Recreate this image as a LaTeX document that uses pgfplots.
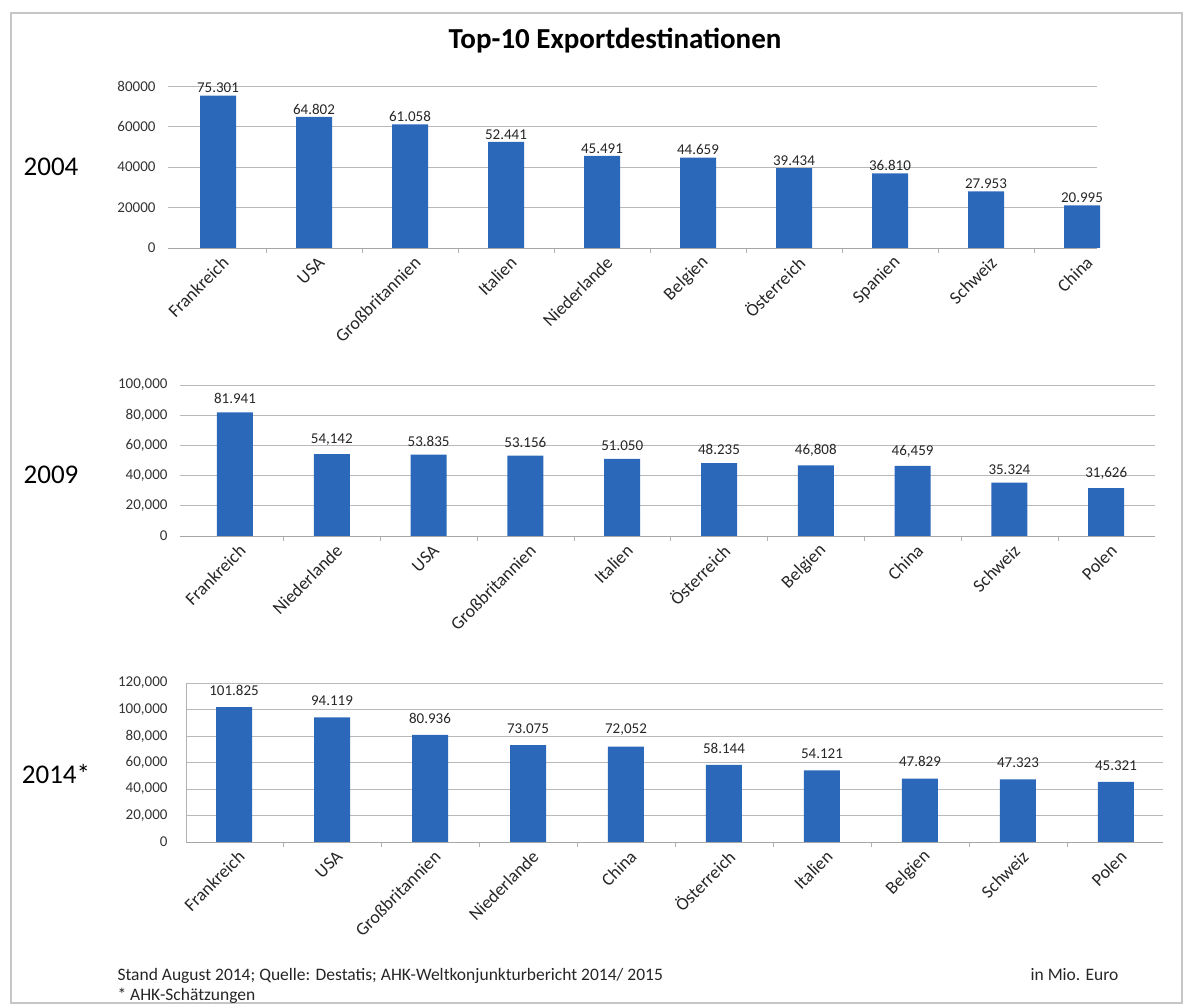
\documentclass[border=0pt]{standalone}
\usepackage{pgfplots}
\pgfplotsset{compat=1.18}
\usepackage{pgfplotstable}
\usepackage{fontspec}
\setmainfont{Carlito}
\definecolor{barblue}{RGB}{44,104,186}
\newcommand\tickfont{\fontsize{15}{15}\selectfont}
\newcommand\valfont{\fontsize{15}{15}\selectfont}
\newcommand\labfont{\fontsize{18}{18}\selectfont}

\pgfplotstableread{
x y label
0 75301 75.301
1 64802 64.802
2 61058 61.058
3 52441 52.441
4 45491 45.491
5 44659 44.659
6 39434 39.434
7 36810 36.810
8 27953 27.953
9 20995 20.995
}\dataA
\pgfplotstableread{
x y label
0 81941 81.941
1 54142 54,142
2 53835 53.835
3 53156 53.156
4 51050 51.050
5 48235 48.235
6 46808 46,808
7 46459 46,459
8 35324 35.324
9 31626 31,626
}\dataB
\pgfplotstableread{
x y label
0 101825 101.825
1 94119 94.119
2 80936 80.936
3 73075 73.075
4 72052 72,052
5 58144 58.144
6 54121 54.121
7 47829 47.829
8 47323 47.323
9 45321 45.321
}\dataC

\pgfplotsset{
  panel/.style={
    scale only axis, ybar, bar width=36pt, ymin=0, clip=false,
    scaled y ticks=false,
    axis x line*=bottom, axis y line*=left,
    x axis line style={draw=gray!70, line width=0.8pt},
    y axis line style={draw=none},
    ymajorgrids, grid style={gray!55, line width=0.8pt},
    xtick={0,...,9},
    minor xtick={0.5,1.5,...,8.5},
    major x tick style={draw=none},
    minor x tick style={draw=gray!60, line width=0.6pt},
    ytick style={draw=none},
    tick align=outside, minor tick length=5pt, major tick length=5pt,
    yticklabel style={font=\tickfont, text=black!80, xshift=-4pt},
    xticklabel style={font=\labfont, text=black!85, rotate=45, anchor=east, xshift=4pt, yshift=-10pt},
    nodes near coords, point meta=explicit symbolic,
    nodes near coords style={font=\valfont, text=black!85, anchor=south},
  },
  bars/.style={fill=barblue, draw=none},
}

\begin{document}
\begin{tikzpicture}[x=1pt,y=1pt]
\path[use as bounding box] (0,0) rectangle (1189,1007);
\draw[gray!45, line width=1.5pt] (11,4) rectangle (1182,994);

\node[font=\bfseries\fontsize{29}{29}\selectfont] at (615,966) {Top-10 Exportdestinationen};

\node[font=\fontsize{27}{27}\selectfont] at (51,840) {2004};
\node[font=\fontsize{27}{27}\selectfont] at (51,532) {2009};
\node[font=\fontsize{27}{27}\selectfont] at (56,233) {2014*};

% 2004
\begin{axis}[panel, at={(168pt,759pt)}, anchor=south west,
  width=929pt, height=162pt,
  xmin=-0.521, xmax=9.156, ymax=80000,
  ytick={0,20000,40000,60000,80000},
  yticklabels={0,20000,40000,60000,80000},
  xticklabels={Frankreich,USA,Großbritannien,Italien,Niederlande,Belgien,Österreich,Spanien,Schweiz,China},
  nodes near coords style={yshift=-1pt}]
\addplot[bars] table[x=x,y=y,meta=label] {\dataA};
\end{axis}

% 2009
\begin{axis}[panel, at={(180pt,471pt)}, anchor=south west,
  width=975pt, height=151pt,
  xmin=-0.568, xmax=9.504, ymax=100000,
  ytick={0,20000,40000,60000,80000,100000},
  yticklabels={0,{20,000},{40,000},{60,000},{80,000},{100,000}},
  xticklabels={Frankreich,Niederlande,USA,Großbritannien,Italien,Österreich,Belgien,China,Schweiz,Polen},
  nodes near coords style={yshift=5pt}]
\addplot[bars] table[x=x,y=y,meta=label] {\dataB};
\end{axis}

% 2014
\begin{axis}[panel, at={(186pt,165pt)}, anchor=south west,
  width=977pt, height=159pt,
  xmin=-0.49, xmax=9.48, ymax=120000,
  y axis line style={draw=gray!60, line width=0.8pt},
  ytick={0,20000,40000,60000,80000,100000,120000},
  yticklabels={0,{20,000},{40,000},{60,000},{80,000},{100,000},{120,000}},
  yticklabel style={xshift=-6pt},
  xticklabels={Frankreich,USA,Großbritannien,Niederlande,China,Österreich,Italien,Belgien,Schweiz,Polen},
  nodes near coords style={yshift=8pt}]
\addplot[bars] table[x=x,y=y,meta=label] {\dataC};
\end{axis}

\node[anchor=base west, font=\fontsize{17.5}{17.5}\selectfont, text=black!85] at (114,27) {Stand August 2014; Quelle: Destatis; AHK-Weltkonjunkturbericht 2014/ 2015};
\node[anchor=base west, font=\fontsize{17.5}{17.5}\selectfont, text=black!85] at (114,6) {* AHK-Schätzungen};
\node[anchor=base east, font=\fontsize{17.5}{17.5}\selectfont, text=black!85] at (1122,27) {in Mio. Euro};
\end{tikzpicture}
\end{document}
